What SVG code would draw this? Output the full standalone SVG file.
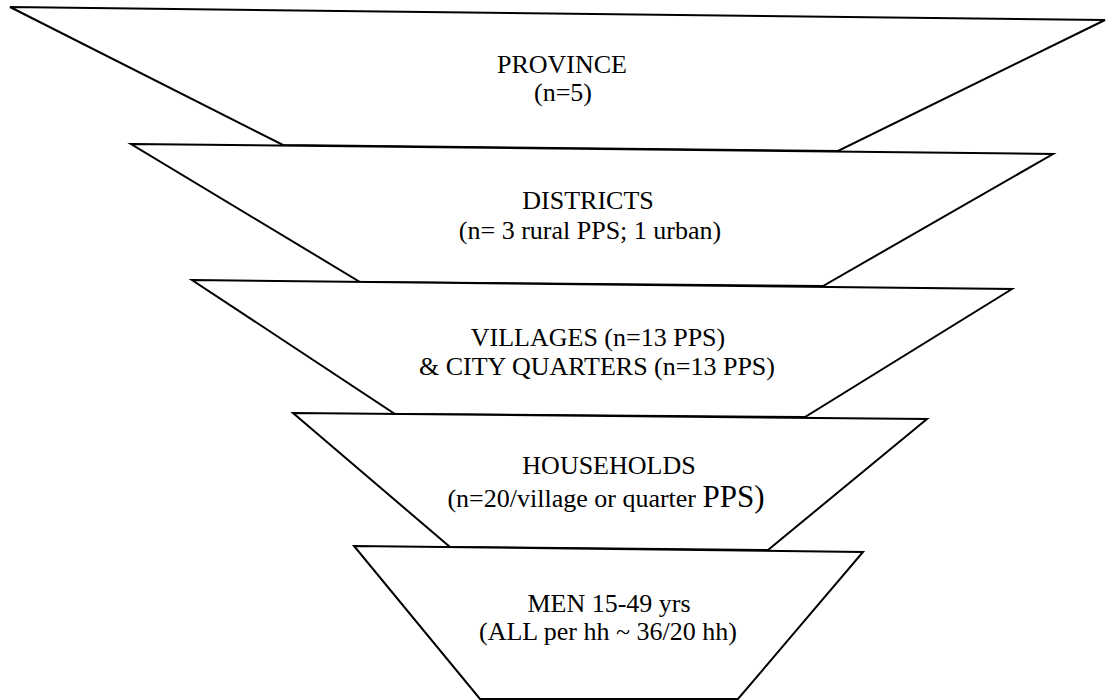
<svg xmlns="http://www.w3.org/2000/svg" width="1107" height="700" viewBox="0 0 1107 700">
<style>
.t{fill:#fff;stroke:#000;stroke-width:2;stroke-linejoin:miter}
text{font-family:"Liberation Serif","Times New Roman",serif;font-size:26px;fill:#000;text-anchor:middle}
</style>
<rect width="1107" height="700" fill="#fff"/>
<g id="province">
<polygon class="t" points="10,7 1105,20 838,151 283,145"/>
<text x="562" y="73">PROVINCE</text>
<text x="563" y="101">(n=5)</text>
</g>
<g id="districts">
<polygon class="t" points="131,144 1053,154 823,286 360,282"/>
<text x="588" y="209">DISTRICTS</text>
<text x="590" y="239">(n= 3 rural PPS; 1 urban)</text>
</g>
<g id="villages">
<polygon class="t" points="192,280 1012,289 805,417 395,414"/>
<text x="598" y="346">VILLAGES (n=13 PPS)</text>
<text x="597" y="375">&amp; CITY QUARTERS (n=13 PPS)</text>
</g>
<g id="households">
<polygon class="t" points="293,413 927,419 768,550 450,547"/>
<text x="609" y="474">HOUSEHOLDS</text>
<text x="606" y="507">(n=20/village or quarter <tspan font-size="31">PPS)</tspan></text>
</g>
<g id="men">
<polygon class="t" points="354,546 863,552 738,699 480,699"/>
<text x="609" y="612">MEN 15-49 yrs</text>
<text x="608" y="640">(ALL per hh ~ 36/20 hh)</text>
</g>
<g id="connectors"/>
</svg>
